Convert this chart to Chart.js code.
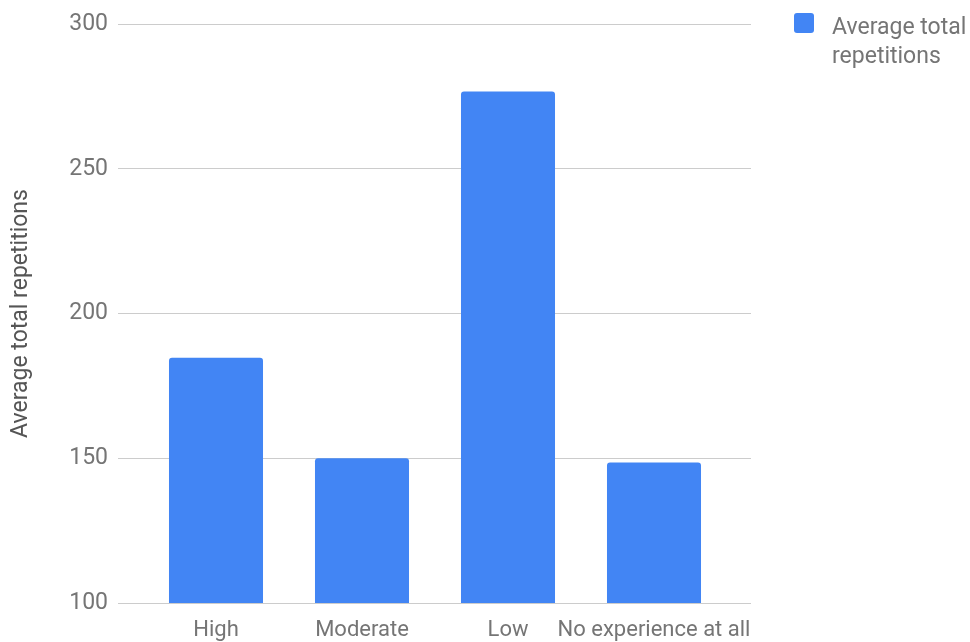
<!DOCTYPE html>
<html>
<head>
<meta charset="utf-8">
<script src="https://cdn.jsdelivr.net/npm/chart.js@4"></script>
<style>
  html, body { margin: 0; padding: 0; background: #fff; }
  #wrap { position: relative; width: 970px; height: 642px; }
  #legend { position: absolute; left: 794px; top: 13px; font-family: Roboto, sans-serif;
    font-size: 23px; color: #757575; line-height: 29px; }
  #legend .box { position: absolute; left: 0; top: 0; width: 20px; height: 20px;
    background: #4285f4; border-radius: 3px; }
  #legend .txt { position: absolute; left: 38px; top: -1px; width: 150px; }
</style>
</head>
<body>
<div id="wrap">
  <canvas id="chart" width="970" height="642"></canvas>
  <div id="legend"><div class="box"></div><div class="txt" id="legendText"></div></div>
</div>
<script>
  // Data
  const categories = ["High", "Moderate", "Low", "No experience at all"];
  const repetitions = [184.7, 150, 276.7, 148.5];
  const seriesLabel = "Average total repetitions";
  const yTicks = [100, 150, 200, 250, 300];

  document.getElementById("legendText").textContent = seriesLabel;

  const gridColor = "#cccccc";
  const xFont = { family: "Roboto, sans-serif", size: 22 };
  const yFont = { family: "Roboto, sans-serif", size: 23 };

  new Chart(document.getElementById("chart").getContext("2d"), {
    type: "bar",
    data: {
      labels: categories,
      datasets: [
        {
          label: seriesLabel,
          data: repetitions,
          backgroundColor: "#4285f4",
          borderRadius: { topLeft: 3, topRight: 3 },
          borderSkipped: "bottom",
          categoryPercentage: 1,
          barPercentage: 0.644,
        },
      ],
    },
    options: {
      responsive: false,
      animation: false,
      layout: { padding: { top: 24, right: 219, left: 0, bottom: 0 } },
      plugins: { legend: { display: false }, tooltip: { enabled: false } },
      scales: {
        x: {
          grid: { display: false },
          border: { display: false },
          ticks: { color: "#757575", font: xFont, padding: 6, maxRotation: 0, autoSkip: false },
          afterFit: (s) => { s.height = 39; },
        },
        y: {
          min: yTicks[0],
          max: yTicks[yTicks.length - 1],
          afterBuildTicks: (s) => { s.ticks = yTicks.map((v) => ({ value: v })); },
          grid: { color: gridColor, tickLength: 25, drawTicks: true },
          border: { display: false },
          ticks: { color: "#757575", font: yFont, padding: 10 },
          title: {
            display: true,
            text: seriesLabel,
            color: "#555",
            font: yFont,
            padding: { top: 7, bottom: 0 },
          },
          afterFit: (s) => { s.width = 143; },
        },
        y2: {
          position: "right",
          min: yTicks[0],
          max: yTicks[yTicks.length - 1],
          afterBuildTicks: (s) => { s.ticks = yTicks.map((v) => ({ value: v })); },
          grid: { color: gridColor, tickLength: 24, drawOnChartArea: false },
          border: { display: false },
          ticks: { display: false },
          afterFit: (s) => { s.width = 24; },
        },
      },
    },
  });
</script>
</body>
</html>
